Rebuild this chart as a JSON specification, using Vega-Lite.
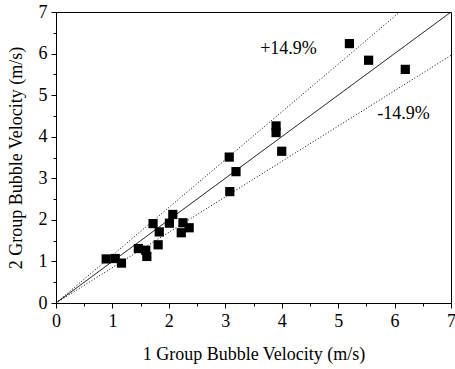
{
  "$schema": "https://vega.github.io/schema/vega-lite/v6.json",
  "width": 395,
  "height": 291,
  "autosize": {"type": "none"},
  "padding": {"left": 56, "top": 12, "right": 4, "bottom": 66},
  "background": "white",
  "config": {
    "view": {"stroke": "black", "strokeWidth": 1},
    "font": "Liberation Serif",
    "axis": {
      "grid": false,
      "domainColor": "black",
      "domainWidth": 1,
      "tickColor": "black",
      "tickWidth": 1,
      "labelColor": "black",
      "labelFont": "Liberation Serif",
      "labelFontSize": 18,
      "labelFlush": false,
      "labelOverlap": false,
      "titleColor": "black",
      "titleFont": "Liberation Serif",
      "titleFontSize": 18,
      "titleFontWeight": "normal"
    }
  },
  "datasets": {
    "measurements": [
      {"v1": 0.89, "v2": 1.06},
      {"v1": 1.05, "v2": 1.07},
      {"v1": 1.16, "v2": 0.96},
      {"v1": 1.46, "v2": 1.31},
      {"v1": 1.59, "v2": 1.27},
      {"v1": 1.61, "v2": 1.12},
      {"v1": 1.72, "v2": 1.91},
      {"v1": 1.81, "v2": 1.40},
      {"v1": 1.83, "v2": 1.71},
      {"v1": 2.01, "v2": 1.92},
      {"v1": 2.07, "v2": 2.13},
      {"v1": 2.22, "v2": 1.69},
      {"v1": 2.25, "v2": 1.93},
      {"v1": 2.36, "v2": 1.81},
      {"v1": 3.08, "v2": 2.68},
      {"v1": 3.07, "v2": 3.51},
      {"v1": 3.19, "v2": 3.16},
      {"v1": 3.90, "v2": 4.26},
      {"v1": 3.90, "v2": 4.10},
      {"v1": 4.00, "v2": 3.65},
      {"v1": 5.20, "v2": 6.24},
      {"v1": 5.54, "v2": 5.84},
      {"v1": 6.19, "v2": 5.62}
    ],
    "guides": [
      {"series": "equal", "v1": 0, "v2": 0},
      {"series": "equal", "v1": 7, "v2": 7},
      {"series": "plus", "v1": 0, "v2": 0},
      {"series": "plus", "v1": 6.092, "v2": 7},
      {"series": "minus", "v1": 0, "v2": 0},
      {"series": "minus", "v1": 7, "v2": 5.957}
    ],
    "bandLabels": [
      {"text": "+14.9%", "v1": 4.12, "v2": 6.1},
      {"text": "-14.9%", "v1": 6.16, "v2": 4.54}
    ]
  },
  "encoding": {
    "x": {
      "field": "v1",
      "type": "quantitative",
      "scale": {"domain": [0, 7], "nice": false, "zero": true},
      "axis": {
        "title": "1 Group Bubble Velocity (m/s)",
        "values": [0, 0.5, 1, 1.5, 2, 2.5, 3, 3.5, 4, 4.5, 5, 5.5, 6, 6.5, 7],
        "labelExpr": "datum.value % 1 === 0 ? format(datum.value, 'd') : ''",
        "tickSize": {"condition": {"test": "datum.value % 1 !== 0", "value": 3}, "value": 5},
        "labelPadding": 4,
        "titleX": 197.5,
        "titleY": 56,
        "titleBaseline": "alphabetic",
        "titleAlign": "center"
      }
    },
    "y": {
      "field": "v2",
      "type": "quantitative",
      "scale": {"domain": [0, 7], "nice": false, "zero": true},
      "axis": {
        "title": "2 Group Bubble Velocity (m/s)",
        "values": [0, 0.5, 1, 1.5, 2, 2.5, 3, 3.5, 4, 4.5, 5, 5.5, 6, 6.5, 7],
        "labelExpr": "datum.value % 1 === 0 ? format(datum.value, 'd') : ''",
        "tickSize": {"condition": {"test": "datum.value % 1 !== 0", "value": 3}, "value": 5},
        "labelPadding": 4,
        "titleX": -35,
        "titleY": 145.5,
        "titleAngle": -90,
        "titleBaseline": "alphabetic",
        "titleAlign": "center"
      }
    }
  },
  "layer": [
    {
      "data": {"name": "guides"},
      "mark": {"type": "line", "color": "black", "strokeWidth": 1, "clip": true},
      "encoding": {
        "detail": {"field": "series"},
        "strokeDash": {
          "field": "series",
          "type": "nominal",
          "scale": {"domain": ["equal", "plus", "minus"], "range": [[1, 0], [1, 2], [1, 2]]},
          "legend": null
        }
      }
    },
    {
      "data": {"name": "measurements"},
      "mark": {"type": "square", "filled": true, "color": "black", "size": 85, "opacity": 1}
    },
    {
      "data": {"name": "bandLabels"},
      "mark": {"type": "text", "fontSize": 18, "font": "Liberation Serif", "color": "black", "align": "center", "baseline": "middle"},
      "encoding": {"text": {"field": "text"}}
    }
  ]
}
